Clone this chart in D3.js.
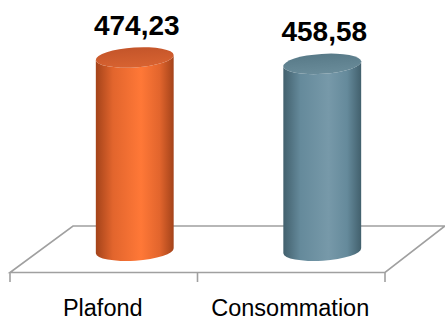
<!DOCTYPE html>
<html>
<head>
<meta charset="utf-8">
<script src="https://cdn.jsdelivr.net/npm/d3@7"></script>
<style>
  html, body { margin: 0; padding: 0; background: #fff; }
  svg { display: block; }
  .value { font-family: "Liberation Sans", Arial, sans-serif; font-weight: bold; font-size: 28px; fill: #000; }
  .cat { font-family: "Liberation Sans", Arial, sans-serif; font-size: 23.5px; fill: #000; }
</style>
</head>
<body>
<div id="chart"></div>
<script>
// data
const categories = ["Plafond", "Consommation"];
const values = [474.23, 458.58];

// palettes: [edge, mid, light, top]
const palette = [
  { edge: "#a4431a", mid: "#e2652d", light: "#ff7837", top: "#c4552a", topLight: "#d86331" },
  { edge: "#42606d", mid: "#658a9b", light: "#7799a9", top: "#587a88", topLight: "#6a8c9a" }
];

/** CONSTANTS */
const width = 445, height = 320;
let floor = { left: 10, right: 385, front: 272.5, back: 226, dx: 60 },
  tilt = -3.7; // degrees, slight rotation of ellipses

const fr = d3.formatLocale({ decimal: ",", thousands: " ", grouping: [3], currency: ["", "€"] });
const fmt = fr.format(".2f");

/** SCALES */
const xScale = d3.scaleBand()
  .domain(categories)
  .range([floor.left, floor.right]);

const baseY = (floor.front + floor.back) / 2 + 1.5;
const yScale = d3.scaleLinear()
  .domain([0, d3.max(values)])
  .range([baseY, 57.5]);

const svg = d3.select("#chart")
  .append("svg")
  .attr("width", width)
  .attr("height", height);

const defs = svg.append("defs");
palette.forEach((p, i) => {
  const g = defs.append("linearGradient")
    .attr("id", "body" + i)
    .attr("x1", "0%").attr("x2", "100%").attr("y1", "0%").attr("y2", "0%");
  g.append("stop").attr("offset", "0%").attr("stop-color", p.edge);
  g.append("stop").attr("offset", "22%").attr("stop-color", p.mid);
  g.append("stop").attr("offset", "58%").attr("stop-color", p.light);
  g.append("stop").attr("offset", "82%").attr("stop-color", p.mid);
  g.append("stop").attr("offset", "100%").attr("stop-color", p.edge);

  const t = defs.append("linearGradient")
    .attr("id", "top" + i)
    .attr("x1", "0%").attr("x2", "0%").attr("y1", "0%").attr("y2", "100%");
  t.append("stop").attr("offset", "0%").attr("stop-color", p.top);
  t.append("stop").attr("offset", "100%").attr("stop-color", p.topLight);
});

/** FLOOR */
const floorG = svg.append("g")
  .attr("fill", "none")
  .attr("stroke", "#a0a0a0")
  .attr("stroke-width", 1.6);

floorG.append("path")
  .attr("d", `M${floor.left},${floor.front} L${floor.right},${floor.front} L${floor.right + floor.dx},${floor.back} L${floor.left + floor.dx + 3},${floor.back} Z`);

// ticks
const tickX = [floor.left].concat(categories.map((c) => xScale(c) + xScale.bandwidth()));
floorG.selectAll("line.tick")
  .data(tickX)
  .join("line")
  .attr("class", "tick")
  .attr("x1", (d) => d).attr("x2", (d) => d)
  .attr("y1", floor.front).attr("y2", floor.front + 9.5);

/** CYLINDERS */
const rx = 39, ry = 10;
const rad = tilt * Math.PI / 180;

const bars = svg.selectAll("g.bar")
  .data(values.map((v, i) => ({ v, c: categories[i], i })))
  .join("g")
  .attr("class", "bar");

bars.each(function (d) {
  const g = d3.select(this);
  const cx = xScale(d.c) + xScale.bandwidth() / 2 + floor.dx / 2 + 1;
  const yTop = yScale(d.v), yBot = yScale(0);
  const ox = rx * Math.cos(rad), oy = rx * Math.sin(rad);
  const lx = cx - ox, rxp = cx + ox;
  const path = `M${lx},${yTop - oy} L${lx},${yBot - oy}` +
    ` A${rx},${ry} ${tilt} 0 0 ${rxp},${yBot + oy}` +
    ` L${rxp},${yTop + oy}` +
    ` A${rx},${ry} ${tilt} 0 1 ${lx},${yTop - oy} Z`;
  g.append("path")
    .attr("d", path)
    .attr("fill", `url(#body${d.i})`);
  g.append("ellipse")
    .attr("cx", cx).attr("cy", yTop)
    .attr("rx", rx).attr("ry", ry)
    .attr("transform", `rotate(${tilt},${cx},${yTop})`)
    .attr("fill", `url(#top${d.i})`);
  g.append("text")
    .attr("class", "value")
    .attr("x", cx + 2)
    .attr("y", yTop - ry - 12.5)
    .attr("text-anchor", "middle")
    .text(fmt(d.v));
});

/** CATEGORY LABELS */
svg.selectAll("text.cat")
  .data(categories)
  .join("text")
  .attr("class", "cat")
  .attr("x", (d) => xScale(d) + xScale.bandwidth() / 2 - 1)
  .attr("y", 316)
  .attr("text-anchor", "middle")
  .text((d) => d);
</script>
</body>
</html>
